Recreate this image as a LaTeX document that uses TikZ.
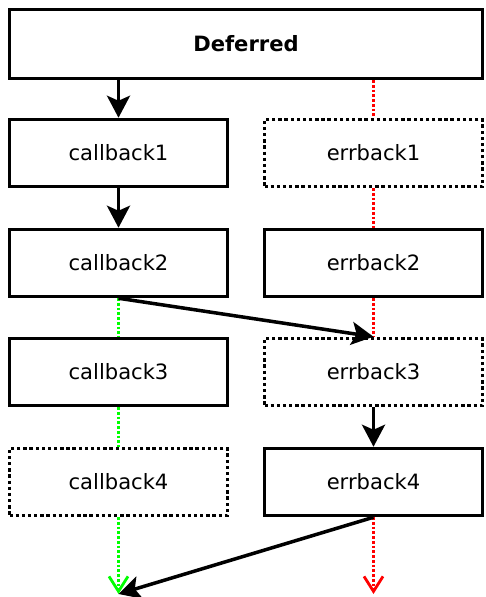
\documentclass[tikz,border=0pt]{standalone}
\usepackage{fontspec}
\setmainfont{DejaVu Sans}
\usetikzlibrary{arrows.meta}
\tikzset{
	box/.style={draw, line width=2pt, minimum width=4.36cm, minimum height=1.34cm, inner sep=0pt, font=\fontsize{12}{14}\selectfont},
	dotbox/.style={box, dash pattern=on 1.9pt off 1.6pt},
	flow/.style={line width=2pt, -{Stealth[length=0.44cm, width=0.46cm, inset=0.1cm]}},
	okline/.style={draw={rgb,255:red,0;green,255;blue,0}, line width=1.5pt, dash pattern=on 1.5pt off 1.2pt},
	errline/.style={draw={rgb,255:red,255;green,0;blue,0}, line width=1.5pt, dash pattern=on 1.5pt off 1.2pt},
	tail/.style={-{Straight Barb[length=0.3cm, width=0.38cm, line width=1.6pt]}}
}

\begin{document}
\begin{tikzpicture}[x=0.02cm, y=-0.02cm]
				\useasboundingbox (0, 0) rectangle (485, 597);
				
				\node[box, minimum width=9.46cm, minimum height=1.38cm, font=\fontsize{12}{14}\selectfont\bfseries] (deferred) at (246, 44) {Deferred};
				
				\node[box] (cb1) at (118.5, 153) {callback1};
				\node[box] (cb2) at (118.5, 263) {callback2};
				\node[box] (cb3) at (118.5, 372) {callback3};
				\node[dotbox] (cb4) at (118.5, 482) {callback4};
				
				\node[dotbox] (eb1) at (373.5, 153) {errback1};
				\node[box] (eb2) at (373.5, 263) {errback2};
				\node[dotbox] (eb3) at (373.5, 372) {errback3};
				\node[box] (eb4) at (373.5, 482) {errback4};
				
				\coordinate (cbend) at (118.5, 594);
				\coordinate (ebend) at (373.5, 594);
				
				% callback chain
				\draw[flow] (cb1.north |- deferred.south) -- (cb1.north);
				\draw[flow] (cb1.south) -- (cb2.north);
				\draw[okline] (cb2.south) -- (cb3.north);
				\draw[okline] (cb3.south) -- (cb4.north);
				\draw[okline, tail] (cb4.south) -- (cbend);
				
				% errback chain
				\draw[errline] (eb1.north |- deferred.south) -- (eb1.north);
				\draw[errline] (eb1.south) -- (eb2.north);
				\draw[errline] (eb2.south) -- (eb3.north);
				\draw[flow] (eb3.south) -- (eb4.north);
				\draw[errline, tail] (eb4.south) -- (ebend);
				
				% switching sides
				\draw[flow] (cb2.south) -- (eb3.north);
				\draw[flow] (eb4.south) -- (cbend);
			\end{tikzpicture}
\end{document}
